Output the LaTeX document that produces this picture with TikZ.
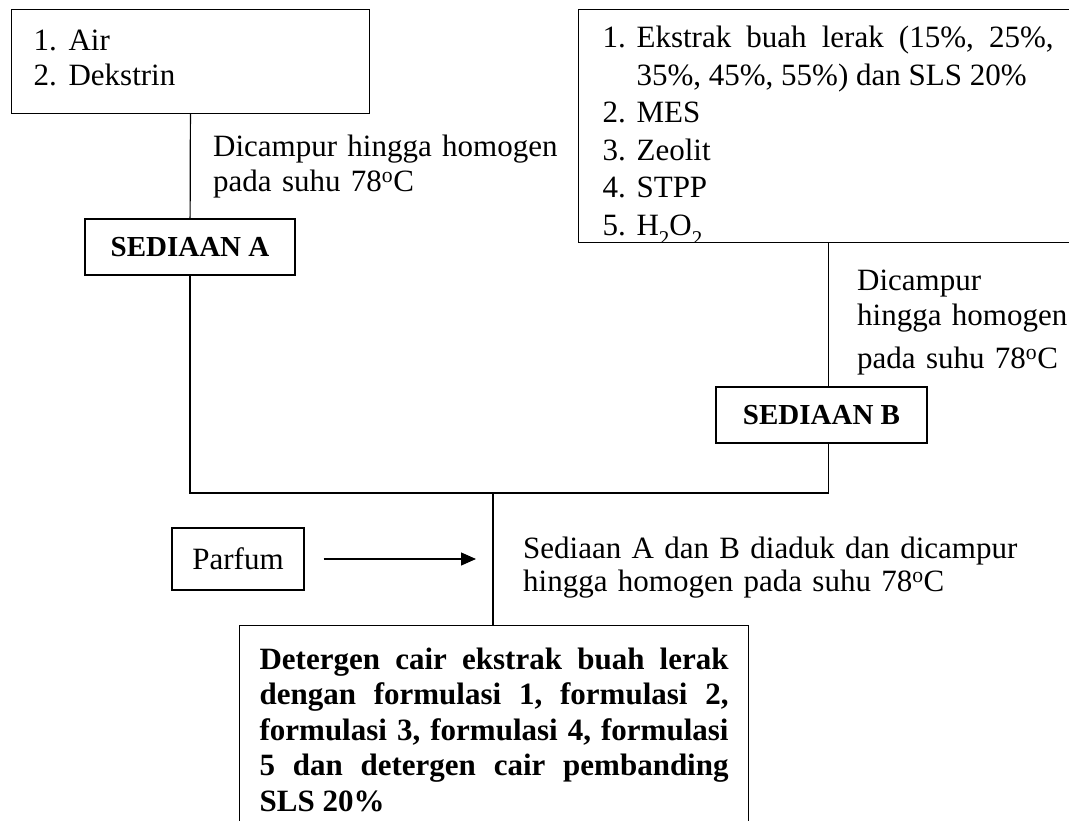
\documentclass[tikz,border=0pt]{standalone}
\usepackage{fontspec}
\setmainfont{Liberation Serif}
\usepackage{tikz}
\usetikzlibrary{arrows.meta,positioning}

\begin{document}
\begin{tikzpicture}[x=1pt,y=-1pt,
    kotak/.style={draw,line width=1.2pt,inner sep=0pt},
    hubung/.style={line width=1.2pt},
    teks/.style={anchor=north west,inner sep=0pt,align=left,font=\fontsize{31}{35}\selectfont}]
  \useasboundingbox (0,0) rectangle (1069,820);

  % bahan untuk sediaan A
  \node[kotak,anchor=north west,text width=314pt,inner xsep=22pt,
        text height=41pt,text depth=63pt,align=left,
        font=\fontsize{31}{35}\selectfont] (bahanA) at (11,9)
        {\makebox[35pt][l]{1.}Air\\\makebox[35pt][l]{2.}Dekstrin};
  \node[teks,text width=380pt] (ketA) at (213,132)
        {\strut Dicampur hingga homogen\\pada suhu 78\textsuperscript{o}C};
  \node[kotak,minimum width=210pt,minimum height=56pt,
        font=\bfseries\fontsize{29}{35}\selectfont] (sediaanA) at (190,247) {SEDIAAN A};

  % bahan untuk sediaan B (terpotong di tepi bawah)
  \begin{scope}
    \clip (560,0) rectangle (1069,242.6);
    \node[kotak,anchor=north west,text width=451pt,inner xsep=24pt,
          text height=38pt,text depth=195pt,align=justify,
          font=\fontsize{31}{37.5}\selectfont] (bahanB) at (578,9)
          {\parindent=0pt\frenchspacing
           \hangindent=34pt\hangafter=1
           \makebox[34pt][l]{1.}Ekstrak buah lerak (15\%, 25\%,\linebreak
           35\%, 45\%, 55\%) dan SLS 20\%\par
           \makebox[34pt][l]{2.}MES\par
           \makebox[34pt][l]{3.}Zeolit\par
           \makebox[34pt][l]{4.}STPP\par
           \makebox[34pt][l]{5.}H\raisebox{-10pt}{\fontsize{21}{21}\selectfont 2}O\raisebox{-10pt}{\fontsize{21}{21}\selectfont 2}};
  \end{scope}
  \node[teks,text width=230pt] (ketB) at (857,266)
        {\strut Dicampur\\hingga homogen\\[8pt]pada suhu 78\textsuperscript{o}C};
  \node[kotak,minimum width=211pt,minimum height=56pt,
        font=\bfseries\fontsize{29}{35}\selectfont] (sediaanB) at (821.5,415) {SEDIAAN B};

  % pencampuran A dan B
  \coordinate (pusat) at (493,493);
  \node[kotak,minimum width=132pt,minimum height=62pt,
        font=\fontsize{31}{35}\selectfont] (parfum) at (238,559) {Parfum};
  \node[teks,text width=540pt,font=\fontsize{31}{33.5}\selectfont] (ketAB) at (523,534.5)
        {\strut Sediaan A dan B diaduk dan dicampur\\hingga homogen pada suhu 78\textsuperscript{o}C};
  \node[kotak,anchor=north west,text width=469pt,inner xsep=20pt,inner ysep=22pt,
        align=justify,font=\bfseries\fontsize{31}{35.5}\selectfont] (produk) at (239,625)
        {\frenchspacing Detergen cair ekstrak buah lerak\linebreak
         dengan formulasi 1, formulasi 2,\linebreak
         formulasi 3, formulasi 4, formulasi\linebreak
         5 dan detergen cair pembanding\linebreak
         SLS 20\%};

  % garis penghubung
  \draw[hubung] (bahanA) -- (sediaanA);
  \draw[hubung] (bahanB.south) -- (bahanB.south |- sediaanB.north);
  \draw[hubung] (sediaanA) |- (pusat) -| (bahanB.south |- sediaanB.south);
  \draw[hubung] (pusat) -- (pusat |- produk.north);
  \draw[hubung,-{Triangle[length=15pt,width=13pt]},shorten <=19pt,shorten >=17pt]
        (parfum.east) -- (parfum.east -| pusat);
\end{tikzpicture}
\end{document}
